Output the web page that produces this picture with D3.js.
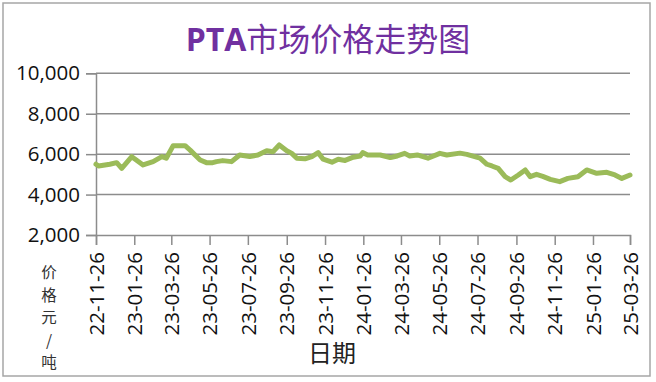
<!DOCTYPE html>
<html>
<head>
<meta charset="utf-8">
<script src="https://cdn.jsdelivr.net/npm/d3@7"></script>
<style>
  body { margin: 0; background: #fff; }
  svg { display: block; }
</style>
</head>
<body>
<div id="chart"></div>
<script>
"use strict";

// weekly-ish PTA prices
const dates = [
  "2022-11-26", "2022-11-30", "2022-12-18", "2022-12-29", "2023-01-06", "2023-01-22",
  "2023-02-09", "2023-02-25", "2023-03-11", "2023-03-18", "2023-03-29", "2023-04-17",
  "2023-04-25", "2023-05-11", "2023-05-21", "2023-05-31", "2023-06-06", "2023-06-16",
  "2023-06-30", "2023-07-13", "2023-07-29", "2023-08-11", "2023-08-25", "2023-09-04",
  "2023-09-14", "2023-09-26", "2023-10-04", "2023-10-12", "2023-10-25", "2023-11-05",
  "2023-11-15", "2023-11-23", "2023-12-07", "2023-12-17", "2023-12-28", "2024-01-10",
  "2024-01-21", "2024-01-25", "2024-02-02", "2024-02-22", "2024-03-09", "2024-03-20",
  "2024-04-01", "2024-04-09", "2024-04-21", "2024-05-08", "2024-05-27", "2024-06-07",
  "2024-06-28", "2024-07-09", "2024-07-30", "2024-08-10", "2024-08-18", "2024-08-28",
  "2024-09-08", "2024-09-17", "2024-09-29", "2024-10-10", "2024-10-18", "2024-10-28",
  "2024-11-07", "2024-11-19", "2024-12-04", "2024-12-17", "2025-01-02", "2025-01-16",
  "2025-02-01", "2025-02-17", "2025-03-02", "2025-03-13", "2025-03-26"
];
const prices = [
  5500, 5415, 5500, 5580, 5300, 5875,
  5465, 5630, 5880, 5800, 6420, 6420,
  6200, 5710, 5580, 5580, 5630, 5680,
  5630, 5960, 5880, 5960, 6170, 6120,
  6455, 6170, 6040, 5800, 5770, 5880,
  6075, 5750, 5600, 5750, 5690, 5850,
  5910, 6075, 5960, 5960, 5830, 5910,
  6040, 5910, 5960, 5800, 6040, 5960,
  6050, 5990, 5800, 5500, 5415, 5300,
  4885, 4720, 4970, 5220, 4885, 5000,
  4900, 4750, 4640, 4800, 4885, 5220,
  5050, 5100, 4970, 4800, 4970
];
const xTicks = [
  "2022-11-26", "2023-01-26", "2023-03-26", "2023-05-26", "2023-07-26", "2023-09-26",
  "2023-11-26", "2024-01-26", "2024-03-26", "2024-05-26", "2024-07-26", "2024-09-26",
  "2024-11-26", "2025-01-26", "2025-03-26"
];
const yTicks = [2000, 4000, 6000, 8000, 10000];

const size = {
  width: 656,
  height: 382,
  left: 96,
  right: 630,
  top: 73.3,
  bottom: 235
};

const parse = d3.timeParse("%Y-%m-%d");
const data = dates.map((d, i) => ({ date: parse(d), value: prices[i] }));

const svg = d3.select("#chart").append("svg")
  .attr("width", size.width)
  .attr("height", size.height);

svg.append("rect")
  .attr("x", 3).attr("y", 3)
  .attr("width", 647).attr("height", 373)
  .attr("fill", "#fff")
  .attr("stroke", "#a6a6a6")
  .attr("stroke-width", 1.5);

svg.append("text")
  .attr("x", 328)
  .attr("y", 51)
  .attr("text-anchor", "middle")
  .style("font-family", "'Noto Sans CJK SC', 'Open Sans', sans-serif")
  .style("font-size", "32px")
  .style("fill", "#7030a0")
  .html("<tspan style='font-weight:bold;font-family:\"Open Sans\"'>PTA</tspan>市场价格走势图");

const x = d3.scaleTime()
  .domain([parse(xTicks[0]), parse(xTicks[xTicks.length - 1])])
  .range([size.left, size.right]);

const y = d3.scaleLinear()
  .domain([2000, 10000])
  .range([size.bottom, size.top]);

// gridlines
svg.append("g")
  .selectAll("line")
  .data(yTicks.slice(1))
  .enter()
  .append("line")
  .attr("x1", size.left)
  .attr("x2", size.right)
  .attr("y1", d => y(d))
  .attr("y2", d => y(d))
  .attr("stroke", "#8c8c8c")
  .attr("stroke-width", 1.5);

const yAxis = svg.append("g")
  .attr("transform", "translate(" + size.left + ",0)")
  .call(d3.axisLeft(y).tickValues(yTicks).tickSize(10).tickPadding(6)
    .tickFormat(d3.format(",")));

const xAxis = svg.append("g")
  .attr("transform", "translate(0," + size.bottom + ")")
  .call(d3.axisBottom(x).tickValues(xTicks.map(parse)).tickSize(10)
    .tickFormat(d3.timeFormat("%y-%m-%d")));

[yAxis, xAxis].forEach(a => {
  a.select(".domain").attr("stroke", "#8c8c8c").attr("stroke-width", 1.5);
  a.selectAll(".tick line").attr("stroke", "#8c8c8c").attr("stroke-width", 1.5);
  a.selectAll("text")
    .style("font-family", "'Open Sans', sans-serif")
    .style("font-size", "20.5px")
    .style("fill", "#111");
});

xAxis.selectAll("text")
  .attr("transform", "rotate(-90)")
  .attr("text-anchor", "end")
  .attr("x", -17)
  .attr("y", 0)
  .attr("dy", "0.35em");

svg.append("path")
  .datum(data)
  .attr("fill", "none")
  .attr("stroke", "#9bbb59")
  .attr("stroke-width", 5)
  .attr("stroke-linejoin", "round")
  .attr("stroke-linecap", "round")
  .attr("d", d3.line().x(d => x(d.date)).y(d => y(d.value)));

// y title, one character per row
const yTitle = ["价", "格", "元", "/", "吨"];
svg.append("g")
  .selectAll("text")
  .data(yTitle)
  .enter()
  .append("text")
  .attr("x", 49)
  .attr("y", (d, i) => 278 + i * 22.5)
  .attr("text-anchor", "middle")
  .style("font-family", "'Noto Sans CJK SC', sans-serif")
  .style("font-size", "15.5px")
  .style("fill", "#333")
  .text(d => d);

svg.append("text")
  .attr("x", 332)
  .attr("y", 362)
  .attr("text-anchor", "middle")
  .style("font-family", "'Noto Sans CJK SC', sans-serif")
  .style("font-size", "24px")
  .style("fill", "#222")
  .text("日期");
</script>
</body>
</html>
